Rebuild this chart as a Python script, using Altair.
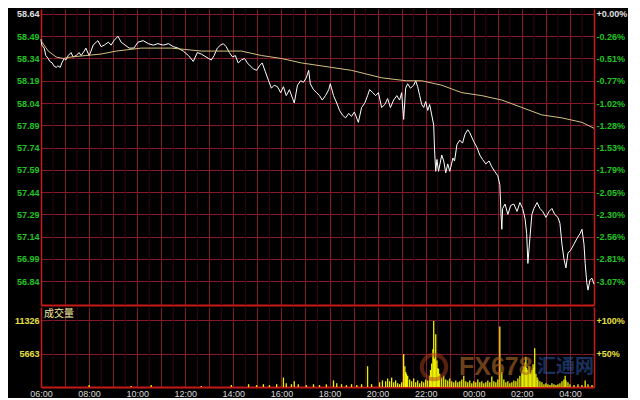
import altair as alt
import pandas as pd

PREV_CLOSE = 58.64

# ---- price (minutes after 06:00, price) ----
price_minutes = [
    0, 2, 8, 12, 18, 22, 28, 32, 38, 42,
    48, 52, 58, 62, 68, 75, 80, 88, 95, 100,
    108, 112, 120, 125, 130, 138, 142, 150, 158, 168,
    175, 182, 192, 200, 210, 220, 232, 242, 255, 268,
    280, 292, 305, 318, 330, 342, 355, 368, 380, 390,
    400, 412, 425, 432, 440, 448, 455, 462, 470, 478,
    485, 492, 500, 508, 515, 522, 530, 538, 545, 552,
    560, 568, 575, 582, 590, 598, 605, 612, 620, 628,
    632, 640, 648, 655, 662, 668, 672, 680, 688, 695,
    702, 710, 718, 722, 730, 738, 745, 752, 760, 768,
    775, 782, 792, 800, 808, 815, 820, 828, 835, 842,
    850, 858, 865, 872, 880, 888, 895, 900, 905, 910,
    915, 922, 930, 935, 940, 945, 950, 955, 960, 965,
    970, 975, 980, 982, 985, 988, 992, 1000, 1005, 1010,
    1015, 1020, 1028, 1032, 1038, 1045, 1052, 1058, 1065, 1070,
    1075, 1080, 1088, 1095, 1102, 1110, 1118, 1125, 1132, 1140,
    1145, 1148, 1150, 1152, 1158, 1165, 1172, 1180, 1188, 1195,
    1202, 1208, 1212, 1215, 1220, 1225, 1230, 1238, 1245, 1252,
    1260, 1268, 1275, 1282, 1290, 1295, 1300, 1305, 1310, 1315,
    1322, 1330, 1338, 1345, 1350, 1355, 1358, 1362, 1365, 1370,
    1375, 1380,
]
price_values = [
    58.47, 58.43, 58.41, 58.36, 58.34, 58.32, 58.31, 58.29, 58.28, 58.29,
    58.28, 58.31, 58.34, 58.33, 58.36, 58.38, 58.35, 58.36, 58.38, 58.36,
    58.39, 58.41, 58.36, 58.39, 58.43, 58.45, 58.46, 58.42, 58.43, 58.45,
    58.43, 58.46, 58.49, 58.45, 58.43, 58.41, 58.41, 58.45, 58.46, 58.44,
    58.43, 58.44, 58.43, 58.44, 58.42, 58.41, 58.39, 58.36, 58.32, 58.38,
    58.37, 58.35, 58.33, 58.36, 58.41, 58.43, 58.44, 58.42, 58.38, 58.35,
    58.36, 58.31, 58.33, 58.34, 58.31, 58.29, 58.27, 58.26, 58.29, 58.31,
    58.25, 58.19, 58.14, 58.16, 58.15, 58.11, 58.15, 58.09, 58.13, 58.07,
    58.04, 58.16, 58.19, 58.18, 58.21, 58.26, 58.17, 58.13, 58.11, 58.09,
    58.06, 58.09, 58.13, 58.17, 58.09, 58.04, 57.99, 57.96, 57.94, 57.97,
    57.95, 57.98, 57.91, 58.01, 58.04, 58.09, 58.13, 58.11, 58.09, 58.11,
    58.01, 58.03, 58.07, 58.01, 58.06, 58.09, 58.06, 58.11, 57.93, 58.14,
    58.17, 58.14, 58.16, 58.19, 58.15, 58.09, 58.03, 58.01, 58.05, 57.99,
    58.03, 57.96, 57.89, 57.73, 57.58, 57.66, 57.58, 57.69, 57.65, 57.57,
    57.63, 57.58, 57.67, 57.65, 57.76, 57.79, 57.77, 57.83, 57.86, 57.84,
    57.81, 57.78, 57.74, 57.69, 57.66, 57.63, 57.65, 57.61, 57.58, 57.55,
    57.49, 57.29, 57.19, 57.33, 57.36, 57.29, 57.35, 57.36, 57.31, 57.37,
    57.33, 57.26, 57.16, 56.96, 57.13, 57.29, 57.33, 57.37, 57.33, 57.31,
    57.27, 57.31, 57.33, 57.29, 57.27, 57.23, 57.09, 56.99, 56.93, 57.03,
    57.05, 57.09, 57.13, 57.16, 57.19, 57.09, 56.96, 56.83, 56.78, 56.85,
    56.86, 56.82,
]

# ---- average price line ----
avg_minutes = [0, 18, 38, 55, 75, 112, 150, 188, 250, 325, 400, 500, 550, 600, 650,
               725, 775, 850, 912, 950, 1000, 1050, 1100, 1150, 1200, 1250, 1300, 1350, 1380]
avg_values = [58.46, 58.39, 58.35, 58.34, 58.35, 58.36, 58.37, 58.39, 58.41, 58.41,
              58.39, 58.39, 58.36, 58.34, 58.31, 58.28, 58.26, 58.21, 58.19, 58.19,
              58.16, 58.11, 58.09, 58.06, 58.01, 57.96, 57.94, 57.91, 57.87]

# ---- volume ----
vol_minutes = [
    120, 225, 275, 400, 475, 518, 538, 555, 570, 588,
    605, 612, 625, 632, 642, 662, 680, 695, 712, 730,
    738, 750, 762, 775, 788, 800, 815, 825, 845, 852,
    860, 865, 870, 875, 880, 885, 890, 895, 900, 905,
    908, 910, 912, 915, 920, 925, 930, 935, 940, 945,
    950, 955, 960, 965, 970, 972, 975, 978, 980, 982,
    985, 988, 990, 992, 995, 1000, 1005, 1010, 1015, 1020,
    1025, 1030, 1035, 1040, 1045, 1050, 1055, 1060, 1065, 1070,
    1075, 1080, 1085, 1090, 1095, 1100, 1105, 1110, 1115, 1120,
    1125, 1130, 1135, 1140, 1145, 1150, 1155, 1160, 1165, 1170,
    1175, 1180, 1185, 1190, 1195, 1200, 1202, 1205, 1208, 1210,
    1212, 1215, 1218, 1220, 1222, 1225, 1228, 1230, 1232, 1235,
    1238, 1240, 1245, 1250, 1255, 1260, 1265, 1270, 1275, 1280,
    1285, 1290, 1295, 1300, 1305, 1308, 1310, 1315, 1320, 1330,
    1340, 1350, 1358, 1365, 1375,
]
vol_values = [
    320, 160, 320, 160, 320, 480, 320, 480, 320, 480,
    1600, 640, 480, 960, 480, 320, 480, 320, 480, 1120,
    640, 480, 320, 480, 320, 480, 3520, 480, 800, 1120,
    960, 1440, 960, 1600, 800, 1120, 640, 480, 800, 5600,
    3520, 2560, 2240, 1920, 1280, 960, 1440, 800, 1120, 640,
    960, 800, 1280, 1120, 1920, 2880, 4000, 6400, 11200, 4800,
    8960, 4480, 3200, 3040, 2240, 1600, 1920, 1280, 1120, 1440,
    960, 800, 1120, 800, 960, 1280, 1920, 960, 800, 1120,
    640, 960, 800, 1280, 800, 960, 640, 800, 1120, 800,
    1760, 960, 800, 1280, 10240, 2560, 1280, 800, 960, 640,
    800, 1120, 960, 1440, 1920, 2400, 2880, 3520, 4160, 5120,
    3200, 2880, 3520, 2560, 2240, 2880, 3840, 3200, 6560, 2240,
    1600, 1280, 960, 800, 480, 640, 480, 320, 640, 480,
    320, 480, 640, 960, 1280, 1920, 1120, 800, 480, 320,
    480, 320, 1120, 480, 320,
]

price_ticks = [58.64, 58.49, 58.34, 58.19, 58.04, 57.89, 57.74, 57.59,
               57.44, 57.29, 57.14, 56.99, 56.84]
vol_ticks = [5663, 11326]

# ---- helpers ----
BASE = pd.Timestamp("2024-01-02 06:00:00")


def iso(m):
    return (BASE + pd.Timedelta(minutes=m)).strftime("%Y-%m-%dT%H:%M:%S")


def dt(m):
    t = BASE + pd.Timedelta(minutes=m)
    return alt.DateTime(year=t.year, month=t.month, date=t.day, hours=t.hour, minutes=t.minute)


price_df = pd.DataFrame({"t": [iso(m) for m in price_minutes], "p": price_values})
avg_df = pd.DataFrame({"t": [iso(m) for m in avg_minutes], "p": avg_values})
vol_df = pd.DataFrame({"t": [iso(m) for m in vol_minutes], "v": vol_values})
half_df = pd.DataFrame({"t": [iso(30 + 60 * k) for k in range(23)]})
vtick_df = pd.DataFrame({"t": [iso(0)] * len(vol_ticks), "v": vol_ticks})

hour_vals = [dt(60 * k) for k in range(24)]

GRID = "#861a2a"
FAINT = "#300810"
BORDER = "#c81818"
GREEN = "#22c322"
YEL = "#e8e040"
FONT = "Liberation Sans"

xscale = alt.Scale(domain=[dt(0), dt(1380)], nice=False)

x_top = alt.X("t:T", scale=xscale,
              axis=alt.Axis(values=hour_vals, labels=False, ticks=False, grid=True,
                            gridColor=GRID, gridWidth=1, domainColor=BORDER,
                            domainWidth=2, title=None))
x_bot = alt.X("t:T", scale=xscale,
              axis=alt.Axis(values=hour_vals, ticks=False, grid=True, gridColor=GRID,
                            gridWidth=1, domainColor=BORDER, domainWidth=2, title=None,
                            labelExpr="hours(datum.value) % 2 == 0 ? timeFormat(datum.value, '%H:%M') : ''",
                            labelColor="#d8d8d8", labelFont=FONT, labelFontSize=9,
                            labelPadding=2, labelFlush=False, labelOverlap=False))

yscale = alt.Scale(domain=[56.68, 58.6733], nice=False, zero=False)

left_axis = alt.Axis(values=price_ticks, orient="left", title=None, ticks=False,
                     grid=True, gridColor=GRID, gridWidth=1, domainColor=BORDER,
                     domainWidth=1.5, labelFont=FONT, labelFontSize=9,
                     labelFontWeight="bold", labelPadding=2, labelOverlap=False,
                     labelColor={"condition": {"test": "datum.value >= 58.635", "value": "#e0e0e0"},
                                 "value": GREEN},
                     format=".2f")
right_axis = alt.Axis(values=price_ticks, orient="right", title=None, ticks=False,
                      grid=False, domainColor=BORDER, domainWidth=1.5,
                      labelFont=FONT, labelFontSize=9, labelFontWeight="bold",
                      labelPadding=2, labelOverlap=False,
                      labelColor={"condition": {"test": "datum.value >= 58.635", "value": "#e0e0e0"},
                                  "value": GREEN},
                      labelExpr=f"(datum.value >= 58.635 ? '+' : '-') + format(abs(datum.value / {PREV_CLOSE} - 1) * 100, '.2f') + '%'")

half_top = alt.Chart(half_df).mark_rule(color=FAINT, strokeWidth=1).encode(x=x_top)
price_line = alt.Chart(price_df).mark_line(color="#ffffff", strokeWidth=1).encode(
    x=x_top, y=alt.Y("p:Q", scale=yscale, axis=left_axis))
avg_line = alt.Chart(avg_df).mark_line(color="#d4c080", strokeWidth=1).encode(
    x=x_top, y=alt.Y("p:Q", scale=yscale, axis=right_axis))

top = alt.layer(half_top, price_line, avg_line).resolve_axis(y="independent").properties(
    width=553, height=296)

vscale = alt.Scale(domain=[0, 13560], nice=False)
vleft = alt.Axis(values=vol_ticks, orient="left", title=None, ticks=False, grid=True,
                 gridColor=GRID, gridWidth=1, domainColor=BORDER, domainWidth=1.5,
                 labelFont=FONT, labelFontSize=9, labelFontWeight="bold", format="d",
                 labelColor=YEL, labelPadding=2, labelOverlap=False)
vright = alt.Axis(values=vol_ticks, orient="right", title=None, ticks=False, grid=False,
                  domainColor=BORDER, domainWidth=1.5, labelFont=FONT, labelFontSize=9,
                  labelFontWeight="bold", labelColor=YEL, labelPadding=2, labelOverlap=False,
                  labelExpr="'+' + format(datum.value / 11326 * 100, 'd') + '%'")

half_bot = alt.Chart(half_df).mark_rule(color=FAINT, strokeWidth=1).encode(x=x_bot)
vol_bars = alt.Chart(vol_df).mark_rule(color="#f0f000", strokeWidth=1.3).encode(
    x=x_bot, y=alt.Y("v:Q", scale=vscale, axis=vleft), y2=alt.datum(0))
vol_right = alt.Chart(vtick_df).mark_point(opacity=0).encode(
    x=x_bot, y=alt.Y("v:Q", scale=vscale, axis=vright))

label_df = pd.DataFrame({"s": ["成交量"]})
vol_label = alt.Chart(label_df).mark_text(
    align="left", baseline="middle", color="#f0eca0", fontSize=10,
    font="Noto Sans CJK SC").encode(x=alt.value(3), y=alt.value(7), text="s:N")

wm1 = alt.Chart(pd.DataFrame({"s": ["FX678"]})).mark_text(
    align="left", baseline="middle", color="#b06a28", opacity=0.6, fontSize=25,
    fontWeight="bold", font="Liberation Sans").encode(
    x=alt.value(418), y=alt.value(60), text="s:N")
wm2 = alt.Chart(pd.DataFrame({"s": ["汇通网"]})).mark_text(
    align="left", baseline="middle", color="#2a5aa8", opacity=0.55, fontSize=19,
    fontWeight="bold", font="Noto Sans CJK SC").encode(
    x=alt.value(496), y=alt.value(60), text="s:N")
logo = alt.Chart(pd.DataFrame({"s": ["o"]})).mark_point(
    shape="circle", filled=False, color="#b04020", opacity=0.5, size=600,
    strokeWidth=4).encode(x=alt.value(393), y=alt.value(60))

bottom = alt.layer(half_bot, vol_bars, vol_right, logo, wm1, wm2, vol_label).resolve_axis(
    y="independent").properties(width=553, height=80)

chart = alt.vconcat(top, bottom, spacing=0).properties(
    background="black",
    padding={"left": 6, "top": 0, "right": 1, "bottom": 0},
).configure_view(stroke=None)

chart.save("out.html", embed_options={"renderer": "svg", "actions": False})
